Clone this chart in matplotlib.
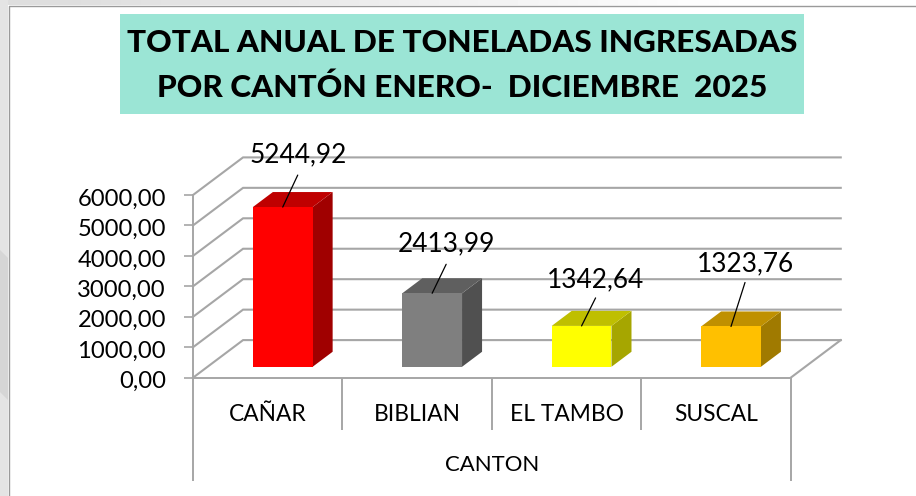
import matplotlib
matplotlib.use('Agg')
import matplotlib.pyplot as plt
from matplotlib.patches import Polygon, Rectangle
from matplotlib.ticker import FixedLocator
from matplotlib.transforms import ScaledTranslation

cantones = ['CAÑAR', 'BIBLIAN', 'EL TAMBO', 'SUSCAL']
toneladas = [5244.92, 2413.99, 1342.64, 1323.76]
yticks = [0, 1000, 2000, 3000, 4000, 5000, 6000]
etiquetas = ['5244,92', '2413,99', '1342,64', '1323,76']

frente = ['#FF0000', '#7F7F7F', '#FFFF00', '#FFC000']
arriba = ['#BF0000', '#5F5F5F', '#BFBF00', '#BF9000']
lado = ['#A00000', '#505050', '#A6A600', '#A07A00']

# leader line end and label centre, pixels relative to the top of the bar
lineas = [(15, 32), (14, 29), (14, 28), (14, 44)]
textos = [(15, 52), (14, 49), (14, 46), (14, 63)]

W, H = 916, 496
GRIS = '#A6A6A6'
fuente = 'Lato'

# 3d look: how far the back wall is, in data units
DX = 0.335
DY = 1235
BAR_W = 0.4
BAR_D0 = 0.30
BAR_D1 = 0.70


def px(v):
    return v * 0.72


def caja(ax, x0, v, i):
    x1 = x0 + BAR_W
    def p(x, y, d):
        return (x + DX * d, y + DY * (d - 0.01))
    ax.add_patch(Polygon([p(x1, 0, BAR_D0), p(x1, 0, BAR_D1), p(x1, v, BAR_D1), p(x1, v, BAR_D0)],
                         closed=True, fc=lado[i], ec='none', zorder=3, clip_on=False))
    ax.add_patch(Polygon([p(x0, v, BAR_D0), p(x1, v, BAR_D0), p(x1, v, BAR_D1), p(x0, v, BAR_D1)],
                         closed=True, fc=arriba[i], ec='none', zorder=3, clip_on=False))
    ax.add_patch(Polygon([p(x0, 0, BAR_D0), p(x1, 0, BAR_D0), p(x1, v, BAR_D0), p(x0, v, BAR_D0)],
                         closed=True, fc=frente[i], ec='none', zorder=4, clip_on=False))


fig = plt.figure(figsize=(W / 100, H / 100), dpi=100, facecolor='white')

# slide background behind the chart frame
fondo = fig.add_axes([0, 0, 1, 1], zorder=0)
fondo.set_xlim(0, W)
fondo.set_ylim(H, 0)
fondo.axis('off')
fondo.add_patch(Rectangle((0, 0), 8, H, fc='#E4E4E4', ec='none'))
fondo.add_patch(Polygon([(0, 250), (8, 258), (8, 400), (0, 392)], closed=True, fc='#D6D6D6', ec='none'))
fondo.imshow([[0.87, 0.9, 0.93, 0.96, 0.99, 1.0]], extent=(0, W, 5, 0), cmap='gray', vmin=0, vmax=1,
             aspect='auto', interpolation='bilinear')
fondo.set_xlim(0, W)
fondo.set_ylim(H, 0)
fondo.plot([8.5, 8.5, W], [H, 5.5, 5.5], color='#9A9A9A', lw=1)

# title box
fondo.add_patch(Rectangle((120, 14), 684, 100, fc='#9BE5D5', ec='none'))
fondo.text(462, 43, 'TOTAL ANUAL DE TONELADAS INGRESADAS', ha='center', va='center',
           fontsize=px(31.5), fontweight='black', family=fuente, color='black')
fondo.text(462, 88, 'POR CANTÓN ENERO-  DICIEMBRE  2025', ha='center', va='center',
           fontsize=px(31.5), fontweight='black', family=fuente, color='black')

ax = fig.add_axes([193 / W, 1 - 377.7 / H, (790.7 - 193) / W, (377.7 - 195) / H], zorder=1)
ax.patch.set_alpha(0)
ax.set_xlim(0, 4)
ax.set_ylim(0, 6000)

for s in ['top', 'right']:
    ax.spines[s].set_visible(False)
for s in ['left', 'bottom']:
    ax.spines[s].set_color(GRIS)
    ax.spines[s].set_linewidth(1.4)

# walls
for v in yticks:
    ax.plot([0, DX, 4 + DX], [v, v + DY, v + DY], color=GRIS, lw=1.5, zorder=1, clip_on=False,
            solid_joinstyle='miter')
ax.plot([4, 4 + DX], [0, DY], color=GRIS, lw=1.5, zorder=1, clip_on=False)

for i, v in enumerate(toneladas):
    caja(ax, i + 0.5 - BAR_W / 2, v, i)
    cx = i + 0.5 + DX * BAR_D0
    cy = v + DY * (BAR_D0 - 0.01)
    ax.annotate('', xy=(cx, cy), xytext=(px(lineas[i][0]), px(lineas[i][1])), textcoords='offset points',
                arrowprops=dict(arrowstyle='-', color='black', lw=0.9, shrinkA=0, shrinkB=0),
                zorder=6, annotation_clip=False)
    ax.annotate(etiquetas[i], xy=(cx, cy), xytext=(px(textos[i][0]), px(textos[i][1])),
                textcoords='offset points', ha='center', va='center', fontsize=px(26.3),
                family=fuente, color='black', zorder=7, annotation_clip=False)

ax.set_yticks(yticks)
ax.set_yticklabels(['{:.2f}'.format(v).replace('.', ',') for v in yticks], fontsize=px(23.8), family=fuente)
ax.tick_params(axis='y', length=px(9), width=1.2, color=GRIS, pad=px(18))
bajar = ScaledTranslation(0, -2 / 100, fig.dpi_scale_trans)
for lab in ax.get_yticklabels():
    lab.set_transform(lab.get_transform() + bajar)

ax.set_xticks([0, 1, 2, 3, 4])
ax.set_xticklabels([])
ax.tick_params(axis='x', which='major', length=px(52), width=1.4, color=GRIS)
for k in [0, 4]:
    ax.xaxis.get_major_ticks()[k].tick1line.set_markersize(px(103))
ax.xaxis.set_minor_locator(FixedLocator([0.5, 1.5, 2.5, 3.5]))
ax.set_xticklabels(cantones, minor=True, fontsize=px(22.8), family=fuente)
ax.tick_params(axis='x', which='minor', length=0, pad=px(26))
ax.set_xlabel('CANTON', fontsize=px(22.2), family=fuente, labelpad=px(20), color='black')

fig.savefig('out.png', dpi=100)
